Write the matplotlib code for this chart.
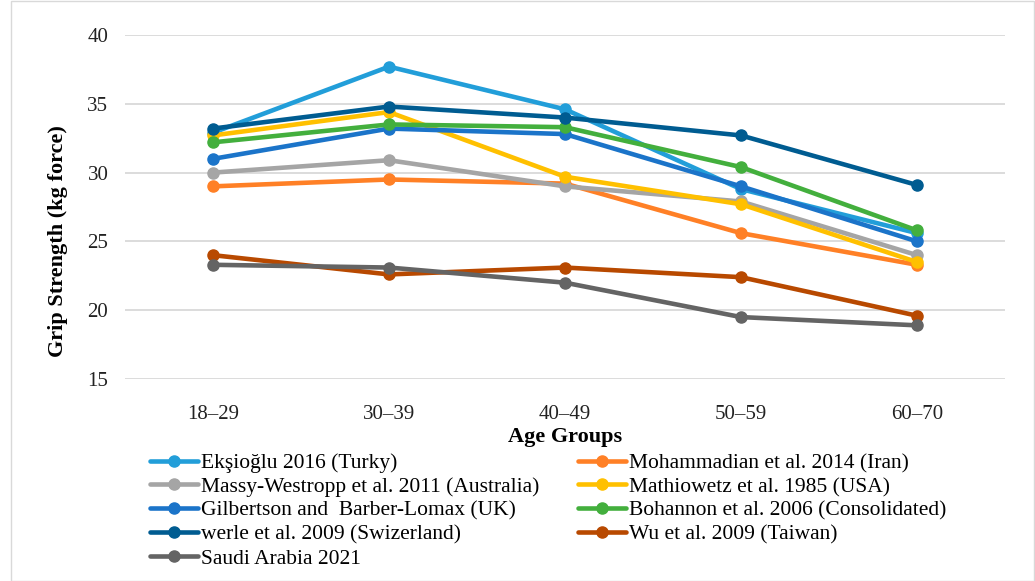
import matplotlib
matplotlib.use("Agg")
import matplotlib.pyplot as plt
from matplotlib.patches import Rectangle

categories = ["18–29", "30–39", "40–49", "50–59", "60–70"]

series_names = [
    "Ekşioğlu 2016 (Turky)",
    "Mohammadian et al. 2014 (Iran)",
    "Massy-Westropp et al. 2011 (Australia)",
    "Mathiowetz et al. 1985 (USA)",
    "Gilbertson and  Barber-Lomax (UK)",
    "Bohannon et al. 2006 (Consolidated)",
    "werle et al. 2009 (Swizerland)",
    "Wu et al. 2009 (Taiwan)",
    "Saudi Arabia 2021",
]

eksioglu = [32.9, 37.7, 34.6, 28.8, 25.6]
mohammadian = [29.0, 29.5, 29.2, 25.6, 23.3]
massy = [30.0, 30.9, 29.0, 27.9, 24.0]
mathiowetz = [32.7, 34.4, 29.7, 27.7, 23.5]
gilbertson = [31.0, 33.2, 32.8, 29.0, 25.0]
bohannon = [32.2, 33.5, 33.3, 30.4, 25.8]
werle = [33.2, 34.8, 34.0, 32.7, 29.1]
wu = [24.0, 22.6, 23.1, 22.4, 19.6]
saudi = [23.3, 23.1, 22.0, 19.5, 18.9]

series_values = [eksioglu, mohammadian, massy, mathiowetz, gilbertson,
                 bohannon, werle, wu, saudi]

colors = ["#229ED9", "#FF8026", "#A5A5A5", "#FFC000", "#1B74C9",
          "#43AF3D", "#005C91", "#B84900", "#646464"]

y_ticks = [15, 20, 25, 30, 35, 40]

plt.rcParams['font.family'] = ['Liberation Serif', 'DejaVu Serif']

W, H = 1035, 581
fig = plt.figure(figsize=(W / 100, H / 100), dpi=100)
ax = fig.add_axes([125 / W, 1 - 379 / H, (1005 - 125) / W, (379 - 35) / H])

x = list(range(len(categories)))
handles = []
for name, vals, c in zip(series_names, series_values, colors):
    h, = ax.plot(x, vals, color=c, lw=3.3, marker='o', ms=8,
                 solid_capstyle='round', label=name, zorder=3)
    handles.append(h)

ax.set_xlim(-0.5, len(categories) - 0.5)
ax.set_ylim(15, 40)
ax.set_yticks(y_ticks)
ax.set_yticklabels([str(t) for t in y_ticks], fontsize=15, color='#222222')
ax.set_xticks(x)
ax.set_xticklabels(categories, fontsize=15, color='#222222')
ax.tick_params(axis='y', length=0, pad=12)
ax.tick_params(axis='x', length=0, pad=19)
ax.yaxis.grid(True, color='#D9D9D9', lw=1.3)
ax.set_axisbelow(True)
for s in ax.spines.values():
    s.set_visible(False)

fig.text(58 / W, 1 - 241 / H, "Grip Strength (kg force)", fontsize=16,
         fontweight='bold', rotation=90, ha='center', va='center')
fig.text(565 / W, 1 - 437 / H, "Age Groups", fontsize=16, fontweight='bold',
         ha='center', va='center')

leg_kw = dict(frameon=False, fontsize=15.5, handlelength=2.25, handletextpad=0.1,
              labelspacing=0.18, borderaxespad=0, borderpad=0)
left_idx = [0, 2, 4, 6, 8]
right_idx = [1, 3, 5, 7]
leg1 = fig.legend([handles[i] for i in left_idx], [series_names[i] for i in left_idx],
                  loc='upper left', bbox_to_anchor=(150 / W, 1 - 453 / H), **leg_kw)
leg2 = fig.legend([handles[i] for i in right_idx], [series_names[i] for i in right_idx],
                  loc='upper left', bbox_to_anchor=(578 / W, 1 - 453 / H), **leg_kw)

fig.patches.append(Rectangle((11 / W, 0.5 / H), 1 - 12 / W, 1 - 1.5 / H,
                             transform=fig.transFigure, fill=False,
                             edgecolor='#D9D9D9', lw=1))

fig.savefig("out.png", dpi=100)
